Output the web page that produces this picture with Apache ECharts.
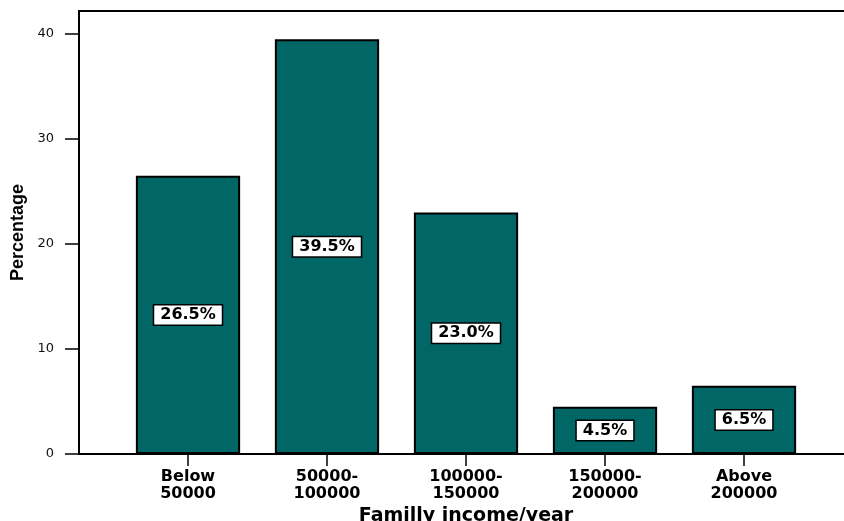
<!DOCTYPE html>
<html>
<head>
<meta charset="utf-8">
<script src="https://cdn.jsdelivr.net/npm/echarts@6/dist/echarts.min.js"></script>
<style>
  html, body { margin: 0; padding: 0; background: #ffffff; }
  #chart { width: 844px; height: 521px; }
</style>
</head>
<body>
<div id="chart"></div>
<script>
// Income groups and share of families in each (percent)
const categories = ['Below\n50000', '50000-\n100000', '100000-\n150000', '150000-\n200000', 'Above\n200000'];
const percentages = [26.5, 39.5, 23.0, 4.5, 6.5];
const yTicks = [0, 10, 20, 30, 40];

const Y_MAX = 42.2;
const AXIS_FONT = '"DejaVu Sans", "Liberation Sans", Arial, sans-serif';

const chart = echarts.init(document.getElementById('chart'), null, { renderer: 'canvas' });

chart.setOption({
  backgroundColor: '#ffffff',
  animation: false,
  grid: [
    // bars live in this inner grid
    { left: 118.5, right: 30.5, top: 11, bottom: 67, outerBoundsMode: 'none' },
    // frame: left axis, bottom line and top line across the full width
    { left: 79, right: 0, top: 11, bottom: 67, outerBoundsMode: 'none' }
  ],
  xAxis: [
    {
      type: 'category',
      gridIndex: 0,
      data: categories,
      axisLine: { show: false },
      axisTick: { show: true, alignWithLabel: true, length: 12, lineStyle: { color: '#000', width: 1.5 } },
      axisLabel: {
        margin: 15,
        color: '#000',
        fontFamily: AXIS_FONT,
        fontWeight: 'bold',
        fontSize: 16,
        lineHeight: 16.5
      },
      name: 'Familly income/year',
      nameLocation: 'middle',
      nameGap: 49,
      nameTextStyle: { color: '#000', fontFamily: AXIS_FONT, fontWeight: 'bold', fontSize: 19 }
    },
    {
      type: 'value', gridIndex: 1, position: 'bottom', min: 0, max: 1,
      axisLine: { show: true, lineStyle: { color: '#000', width: 2 } },
      axisTick: { show: false }, axisLabel: { show: false }, splitLine: { show: false }
    },
    {
      type: 'value', gridIndex: 1, position: 'top', min: 0, max: 1,
      axisLine: { show: true, lineStyle: { color: '#000', width: 2 } },
      axisTick: { show: false }, axisLabel: { show: false }, splitLine: { show: false }
    }
  ],
  yAxis: [
    {
      type: 'value', gridIndex: 0, min: 0, max: Y_MAX, show: false
    },
    {
      type: 'value', gridIndex: 1, min: 0, max: Y_MAX,
      axisLine: { show: true, lineStyle: { color: '#000', width: 2 } },
      axisTick: { show: true, length: 14, customValues: yTicks, lineStyle: { color: '#000', width: 1.5 } },
      axisLabel: { customValues: yTicks, margin: 25, color: '#111', fontFamily: AXIS_FONT, fontSize: 13 },
      splitLine: { show: false },
      name: 'Percentage',
      nameLocation: 'middle',
      nameGap: 46,
      nameTextStyle: {
        color: '#000',
        fontFamily: '"Liberation Sans", Arial, sans-serif',
        fontWeight: 'bold',
        fontSize: 18
      }
    }
  ],
  series: [
    {
      type: 'bar',
      xAxisIndex: 0,
      yAxisIndex: 0,
      data: percentages,
      barCategoryGap: '25%',
      itemStyle: { color: '#006666', borderColor: '#000', borderWidth: 2 },
      label: {
        show: true,
        position: 'inside',
        formatter: p => p.value.toFixed(1) + '%',
        color: '#000',
        fontFamily: AXIS_FONT,
        fontWeight: 'bold',
        fontSize: 16,
        lineHeight: 16,
        backgroundColor: '#ffffff',
        borderColor: '#000',
        borderWidth: 1.5,
        padding: [2, 6, 1, 6]
      }
    }
  ]
});
</script>
</body>
</html>
